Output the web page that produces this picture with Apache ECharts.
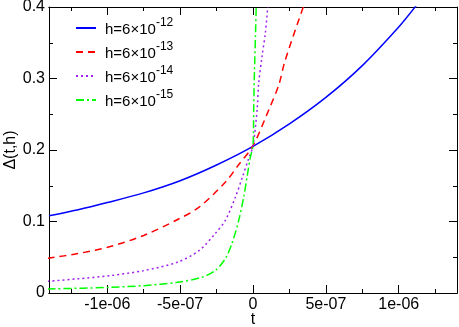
<!DOCTYPE html>
<html><head><meta charset="utf-8">
<script src="https://cdn.jsdelivr.net/npm/echarts@6/dist/echarts.min.js"></script>
<style>html,body{margin:0;padding:0;background:#fff}#c{width:459px;height:327px}</style>
</head><body><div id="c"></div>
<script>
// ---- data (t in seconds, Δ values) ----
const hExponents = ['-12', '-13', '-14', '-15'];
const seriesNames = ['h=6×10^-12', 'h=6×10^-13', 'h=6×10^-14', 'h=6×10^-15'];

const tBlue = [-1.40e-6, -1.20e-6, -1.00e-6, -0.75e-6, -0.50e-6, -0.25e-6, 0, 0.25e-6, 0.50e-6, 0.75e-6, 1.00e-6, 1.12e-6];
const yBlue = [0.108, 0.1165, 0.1265, 0.140, 0.157, 0.179, 0.205, 0.2365, 0.2735, 0.318, 0.372, 0.402];

const tRed = [-1.41e-6, -1.21e-6, -0.98e-6, -0.75e-6, -0.52e-6, -0.37e-6, -0.19e-6, -0.10e-6, 0, 0.108e-6, 0.177e-6, 0.22e-6, 0.345e-6];
const yRed = [0.0486, 0.0548, 0.065, 0.0805, 0.1025, 0.120, 0.155, 0.179, 0.206, 0.256, 0.291, 0.325, 0.400];

const tPurple = [-1.41e-6, -1.21e-6, -0.98e-6, -0.75e-6, -0.52e-6, -0.37e-6, -0.26e-6, -0.19e-6, -0.121e-6, -0.076e-6, -0.03e-6, 0, 0.028e-6, 0.039e-6, 0.062e-6, 0.085e-6, 0.101e-6];
const yPurple = [0.0163, 0.0197, 0.0243, 0.0313, 0.043, 0.0594, 0.083, 0.1015, 0.134, 0.160, 0.188, 0.206, 0.256, 0.293, 0.331, 0.364, 0.400];

const tGreen = [-1.41e-6, -0.98e-6, -0.75e-6, -0.52e-6, -0.35e-6, -0.26e-6, -0.19e-6, -0.145e-6, -0.098e-6, -0.064e-6, -0.041e-6, -0.018e-6, 0, 0.005e-6, 0.010e-6, 0.017e-6, 0.022e-6];
const yGreen = [0.0056, 0.0079, 0.0103, 0.0149, 0.022, 0.0313, 0.048, 0.069, 0.1015, 0.134, 0.162, 0.19, 0.206, 0.26, 0.31, 0.36, 0.40];

const xTickValues = [-1e-6, -5e-7, 0, 5e-7, 1e-6];
const xTickLabels = ['-1e-06', '-5e-07', '0', '5e-07', '1e-06'];
const xMinorValues = [-1.25e-6, -7.5e-7, -2.5e-7, 2.5e-7, 7.5e-7, 1.25e-6];
const xMin = -1.4e-6, xMax = 1.4e-6;
const yMin = 0, yMax = 0.4, yStep = 0.1;

// ---- chart ----
const FONT = 'Liberation Sans';
const zip = (a, b) => a.map((v, i) => [v, b[i]]);
const colors = ['#0000ff', '#ff0000', '#a020f0', '#00ff00'];
const dashes = ['solid', [7, 5], [2, 3], [8, 3, 2, 3]];
const tData = [tBlue, tRed, tPurple, tGreen];
const yData = [yBlue, yRed, yPurple, yGreen];

const axisLineStyle = { color: '#000', width: 1 };
function xAxisBase(pos, grid, ticks, len) {
  return {
    type: 'value', gridIndex: grid, position: pos, min: xMin, max: xMax,
    axisLine: { show: true, onZero: false, lineStyle: axisLineStyle },
    splitLine: { show: false },
    axisTick: { show: true, inside: true, length: len, customValues: ticks, lineStyle: axisLineStyle },
    axisLabel: { show: false }
  };
}
const bottomMajor = xAxisBase('bottom', 0, xTickValues, 8);
bottomMajor.axisLabel = {
  show: true, customValues: xTickValues, margin: 4, color: '#000',
  fontFamily: FONT, fontSize: 16,
  formatter: v => { const i = xTickValues.findIndex(x => Math.abs(x - v) < 1e-12); return i >= 0 ? xTickLabels[i] : ''; }
};
bottomMajor.name = 't';
bottomMajor.nameLocation = 'middle';
bottomMajor.nameGap = 19;
bottomMajor.nameMoveOverlap = false;
bottomMajor.nameTextStyle = { fontFamily: FONT, fontSize: 16, color: '#000' };

const gridRect = { left: 49, right: 2, top: 7, bottom: 34, containLabel: false, outerBoundsMode: 'none' };

const option = {
  animation: false,
  backgroundColor: '#fff',
  grid: [Object.assign({}, gridRect), Object.assign({}, gridRect)],
  xAxis: [
    bottomMajor,
    xAxisBase('top', 0, xTickValues, 8),
    xAxisBase('bottom', 1, xMinorValues, 4),
    xAxisBase('top', 1, xMinorValues, 4)
  ],
  yAxis: [
    {
      type: 'value', gridIndex: 0, position: 'left', min: yMin, max: yMax, interval: yStep,
      axisLine: { show: true, onZero: false, lineStyle: axisLineStyle },
      splitLine: { show: false },
      axisTick: { show: true, inside: true, length: 8, lineStyle: axisLineStyle },
      minorTick: { show: true, splitNumber: 2, length: 4, lineStyle: axisLineStyle },
      axisLabel: { margin: 4, color: '#000', fontFamily: FONT, fontSize: 16 },
      name: 'Δ(t,h)', nameLocation: 'middle', nameGap: 30, nameRotate: 90, nameMoveOverlap: false,
      nameTextStyle: { fontFamily: FONT, fontSize: 16, color: '#000' }
    },
    {
      type: 'value', gridIndex: 0, position: 'right', min: yMin, max: yMax, interval: yStep,
      axisLine: { show: true, onZero: false, lineStyle: axisLineStyle },
      splitLine: { show: false },
      axisTick: { show: true, inside: true, length: 8, lineStyle: axisLineStyle },
      minorTick: { show: true, splitNumber: 2, length: 4, lineStyle: axisLineStyle },
      axisLabel: { show: false }
    },
    { type: 'value', gridIndex: 1, min: yMin, max: yMax, show: false }
  ],
  legend: {
    orient: 'vertical', left: 75, top: 17, padding: 0, itemWidth: 20, itemHeight: 12, itemGap: 4,
    data: seriesNames,
    itemStyle: { opacity: 0 },
    textStyle: {
      fontFamily: FONT, fontSize: 15, color: '#000', padding: [0, 0, 0, 4],
      rich: {
        m: { fontFamily: FONT, fontSize: 15, color: '#000', verticalAlign: 'bottom', lineHeight: 18 },
        sup: { fontFamily: FONT, fontSize: 12, color: '#000', verticalAlign: 'bottom', lineHeight: 18, padding: [0, 0, 8, 0] }
      }
    },
    formatter: name => { const i = seriesNames.indexOf(name); return '{m|h=6×10}{sup|' + hExponents[i] + '}'; }
  },
  series: seriesNames.map((n, i) => ({
    name: n, type: 'line', xAxisIndex: 0, yAxisIndex: 0,
    data: zip(tData[i], yData[i]),
    symbol: 'none', smooth: 0.3, clip: true,
    lineStyle: { color: colors[i], width: 1.5, type: dashes[i] },
    itemStyle: { color: colors[i] }
  }))
};
const chart = echarts.init(document.getElementById('c'), null, { renderer: 'canvas' });
chart.setOption(option);
</script></body></html>
